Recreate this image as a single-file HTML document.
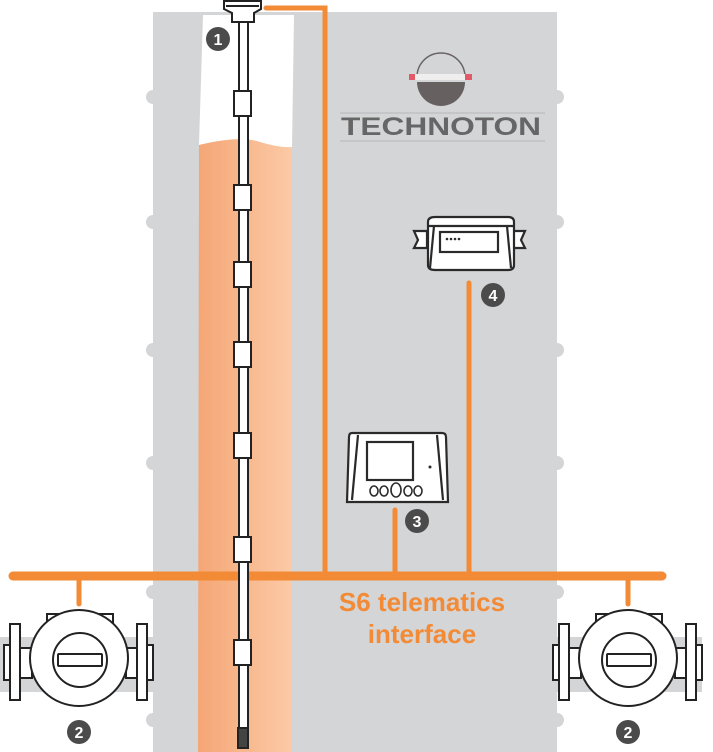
<!DOCTYPE html>
<html><head><meta charset="utf-8"><style>html,body{margin:0;padding:0;background:#fff}svg{display:block}</style></head>
<body>
<svg width="713" height="752" viewBox="0 0 713 752" xmlns="http://www.w3.org/2000/svg">
<defs>
<linearGradient id="og" x1="0" x2="1" y1="0" y2="0"><stop offset="0" stop-color="#f5a676"/><stop offset="1" stop-color="#fbcaa6"/></linearGradient>
<g id="fm">
<rect x="-79" y="-21" width="153" height="55" fill="#d4d5d7"/>
<rect x="-75" y="-13" width="6" height="35" fill="#fff" stroke="#222" stroke-width="2"/>
<rect x="-69" y="-34" width="10" height="76" fill="#fff" stroke="#222" stroke-width="2"/>
<rect x="-59" y="-10" width="12" height="30" fill="#fff" stroke="#222" stroke-width="2"/>
<rect x="47" y="-10" width="12" height="30" fill="#fff" stroke="#222" stroke-width="2"/>
<rect x="58" y="-34" width="10" height="76" fill="#fff" stroke="#222" stroke-width="2"/>
<rect x="68" y="-13" width="6" height="35" fill="#fff" stroke="#222" stroke-width="2"/>
<rect x="-32" y="-44" width="66" height="12" fill="#fff" stroke="#222" stroke-width="2"/>
<ellipse cx="0" cy="0" rx="49" ry="48" fill="#fff" stroke="#222" stroke-width="2"/>
<circle cx="1" cy="2" r="27" fill="#fff" stroke="#222" stroke-width="2"/>
<rect x="-21" y="-4" width="44" height="12" rx="1" fill="#fff" stroke="#222" stroke-width="2"/>
</g>
</defs>
<g fill="#d4d5d7">
<rect x="153" y="12" width="404" height="740"/>
<circle cx="153" cy="97" r="7"/><circle cx="557" cy="97" r="7"/>
<circle cx="153" cy="222" r="7"/><circle cx="557" cy="222" r="7"/>
<circle cx="153" cy="350" r="7"/><circle cx="557" cy="350" r="7"/>
<circle cx="153" cy="463" r="7"/><circle cx="557" cy="463" r="7"/>
<circle cx="153" cy="592" r="7"/><circle cx="557" cy="592" r="7"/>
<circle cx="153" cy="720" r="7"/><circle cx="557" cy="720" r="7"/>
</g>
<polygon points="203,15 294,15 292,148 199,145" fill="#fff"/>
<path d="M199,145 Q240,135 260,142 Q280,148 292,147 L292,752 L198,752 Z" fill="url(#og)"/>
<path d="M417,77 A24,24 0 0 1 465,77 Z" fill="#d4d5d7" stroke="#6a6464" stroke-width="1.5"/>
<path d="M417,82 A24,24 0 0 0 465,82 Z" fill="#676060"/>
<rect x="409" y="74" width="63" height="6" fill="#e05a68"/>
<rect x="415" y="74" width="50" height="6" fill="#eee"/>
<line x1="340" y1="113" x2="545" y2="113" stroke="#b8b8b8" stroke-width="1"/>
<line x1="340" y1="141" x2="545" y2="141" stroke="#b8b8b8" stroke-width="1"/>
<text x="341" y="135" textLength="200" lengthAdjust="spacingAndGlyphs" font-family="Liberation Sans, sans-serif" font-weight="bold" font-size="25" fill="#666">TECHNOTON</text>
<g stroke="#f28a36" fill="none" stroke-linecap="round">
<polyline points="266,8 325,8 325,576" stroke-width="5"/>
<line x1="395" y1="510" x2="395" y2="576" stroke-width="5"/>
<line x1="469" y1="283" x2="469" y2="576" stroke-width="5"/>
<line x1="13" y1="576" x2="662" y2="576" stroke-width="9"/>
<line x1="79" y1="576" x2="79" y2="604" stroke-width="5"/>
<line x1="628" y1="576" x2="628" y2="604" stroke-width="5"/>
</g>
<rect x="239" y="18" width="9" height="718" fill="#fff" stroke="#222" stroke-width="2"/>
<path d="M224,1 H261 V9 L254,13 V22 H232 V13 L224,9 Z" fill="#fff" stroke="#222" stroke-width="2"/>
<line x1="226" y1="6" x2="259" y2="6" stroke="#222" stroke-width="2"/>
<g fill="#fff" stroke="#222" stroke-width="2">
<rect x="234" y="91" width="17" height="25"/>
<rect x="234" y="185" width="17" height="25"/>
<rect x="234" y="262" width="17" height="25"/>
<rect x="234" y="342" width="17" height="25"/>
<rect x="234" y="433" width="17" height="25"/>
<rect x="234" y="537" width="17" height="25"/>
<rect x="234" y="640" width="17" height="25"/>
<rect x="238" y="728" width="10" height="20" fill="#444"/>
</g>
<g fill="#fff" stroke="#2a2a2a" stroke-width="2.2">
<path d="M414,231 H427 V248 H414 L418,240 Z"/>
<path d="M525,231 H513 V248 H525 L521,240 Z"/>
<path d="M428,222 Q428,217 435,217 H508 Q514,217 514,222 V265 Q514,270 508,270 H435 Q428,270 428,265 Z"/>
<line x1="428" y1="226" x2="514" y2="226"/>
<line x1="434" y1="226" x2="430" y2="268"/>
<line x1="507" y1="226" x2="511" y2="268"/>
<rect x="440" y="232" width="58" height="20"/>
</g>
<g fill="#2a2a2a"><circle cx="447" cy="239" r="1.3"/><circle cx="451" cy="239" r="1.3"/><circle cx="455" cy="239" r="1.3"/><circle cx="459" cy="239" r="1.3"/></g>
<g fill="#fff" stroke="#2a2a2a" stroke-width="2.2">
<path d="M352,433 H442 Q446,433 446,437 L448,502 H347 L349,437 Q349,433 352,433 Z"/>
<line x1="358" y1="435" x2="352" y2="500"/>
<line x1="437" y1="435" x2="443" y2="500"/>
<rect x="367" y="442" width="46" height="38"/>
<ellipse cx="374" cy="491" rx="4" ry="5" stroke-width="1.6"/>
<ellipse cx="384" cy="491" rx="4" ry="5" stroke-width="1.6"/>
<ellipse cx="396" cy="490" rx="5" ry="7" stroke-width="1.6"/>
<ellipse cx="408" cy="491" rx="4" ry="5" stroke-width="1.6"/>
<ellipse cx="418" cy="491" rx="4" ry="5" stroke-width="1.6"/>
</g>
<circle cx="430" cy="467" r="1.5" fill="#2a2a2a"/>
<use href="#fm" x="79" y="658"/>
<use href="#fm" x="628" y="658"/>
<g font-family="Liberation Sans, sans-serif" font-weight="bold" font-size="16" fill="#fff" text-anchor="middle">
<circle cx="218" cy="39" r="12" fill="#4b4b4b"/><text x="218" y="45">1</text>
<circle cx="493" cy="295" r="12" fill="#4b4b4b"/><text x="493" y="301">4</text>
<circle cx="417" cy="521" r="12" fill="#4b4b4b"/><text x="417" y="527">3</text>
<circle cx="79" cy="732" r="12" fill="#4b4b4b"/><text x="79" y="738">2</text>
<circle cx="628" cy="732" r="12" fill="#4b4b4b"/><text x="628" y="738">2</text>
</g>
<g font-family="Liberation Sans, sans-serif" font-weight="bold" font-size="26" fill="#f28a36" text-anchor="middle">
<text x="422" y="611">S6 telematics</text>
<text x="422" y="643">interface</text>
</g>
</svg>
</body></html>
